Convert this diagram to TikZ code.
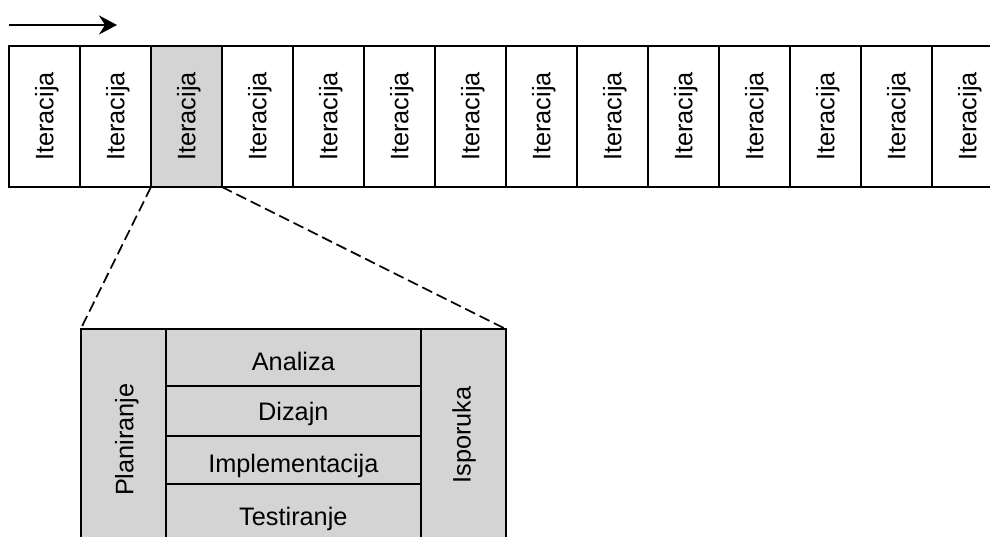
\documentclass[tikz,border=0pt]{standalone}
\usepackage{fontspec}
\setmainfont{Liberation Sans}
\usetikzlibrary{arrows.meta}
\definecolor{phasegray}{RGB}{212,212,212}
\tikzset{
  box/.style={draw=black, line width=1.7pt, inner sep=0pt, outer sep=0pt, anchor=north west},
  itercell/.style={box, minimum width=71pt, minimum height=141pt},
  lbl/.style={inner sep=0pt, anchor=base, font=\fontsize{25.3}{30}\selectfont},
  vlbl/.style={lbl, rotate=90},
  zoomline/.style={line width=1.7pt, dash pattern=on 11pt off 5pt},
}
\begin{document}
\begin{tikzpicture}[x=1pt,y=-1pt]
\useasboundingbox (0,0) rectangle (990,537);
\clip (0,0) rectangle (990,537);

% direction of time
\coordinate (tstart) at (9,25);
\coordinate (tend) at (117,25);
\draw[line width=1.8pt, -{Stealth[length=18pt,width=19pt,inset=6pt]}] (tstart) -- (tend);

% row of iterations
\foreach \i/\f in {0/white,1/white,2/phasegray,3/white,4/white,5/white,6/white,
                   7/white,8/white,9/white,10/white,11/white,12/white,13/white} {
  \node[itercell, fill=\f] (it\i) at ({9+71*\i},46) {};
  \node[vlbl] (itl\i) at ({9+71*\i+44.3},116.5) {Iteracija};
}

% one iteration in detail
\node[box, fill=phasegray, minimum width=85.3pt, minimum height=222pt] (plan) at (80.7,329) {};
\node[box, fill=phasegray, minimum width=254.7pt, minimum height=56.7pt] (analiza) at (166,329) {};
\node[box, fill=phasegray, minimum width=254.7pt, minimum height=50pt] (dizajn) at (166,385.7) {};
\node[box, fill=phasegray, minimum width=254.7pt, minimum height=48.6pt] (impl) at (166,435.7) {};
\node[box, fill=phasegray, minimum width=254.7pt, minimum height=66.7pt] (test) at (166,484.3) {};
\node[box, fill=phasegray, minimum width=85pt, minimum height=222pt] (isp) at (420.7,329) {};

\node[vlbl] (planl) at (133.3,439.7) {Planiranje};
\node[lbl] (analizal) at (293.35,370.7) {Analiza};
\node[lbl] (dizajnl) at (293.35,420.7) {Dizajn};
\node[lbl] (impll) at (293.35,472.3) {Implementacija};
\node[lbl] (testl) at (293.35,525) {Testiranje};
\node[vlbl] (ispl) at (470.7,435) {Isporuka};

% zoom lines
\draw[zoomline] (it2.south west) -- (plan.north west);
\draw[zoomline] (it2.south east) -- (isp.north east);
\end{tikzpicture}
\end{document}
